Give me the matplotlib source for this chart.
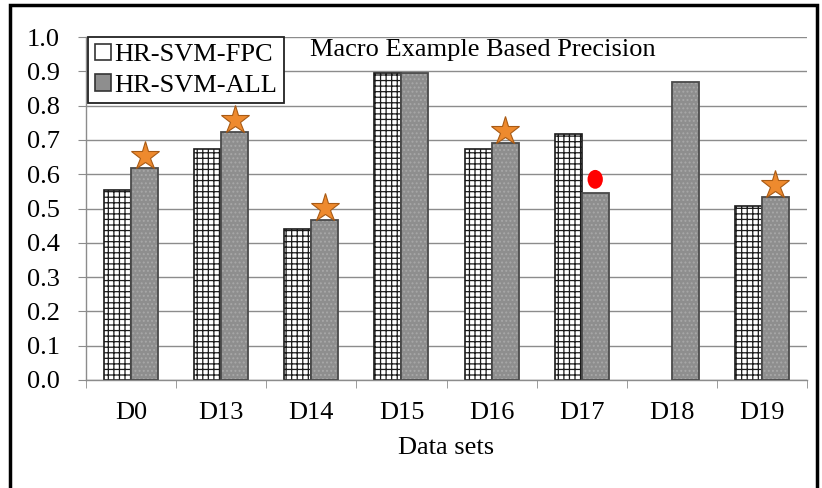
import matplotlib
matplotlib.use("Agg")
import matplotlib.pyplot as plt
import numpy as np
from matplotlib.patches import Rectangle, Ellipse

plt.rcParams['font.family'] = ['Liberation Serif', 'DejaVu Serif']
plt.rcParams['hatch.linewidth'] = 0.9

categories = ["D0", "D13", "D14", "D15", "D16", "D17", "D18", "D19"]
fpc = [0.554, 0.673, 0.440, 0.895, 0.673, 0.717, 0.0, 0.507]
allv = [0.618, 0.723, 0.466, 0.895, 0.690, 0.545, 0.869, 0.533]
star_cats = ["D0", "D13", "D14", "D16", "D19"]
dot_cats = ["D17"]
series_names = ["HR-SVM-FPC", "HR-SVM-ALL"]
title = "Macro Example Based Precision"

FS = 19

fig = plt.figure(figsize=(8.22, 4.88), dpi=100)
ax = fig.add_axes([86/822, 1-380/488, (807-86)/822, (380-37)/488])

x = np.arange(len(categories))
w = 0.3
ax.set_axisbelow(True)
ax.yaxis.grid(True, color='#8c8c8c', linewidth=1.0)

b1 = ax.bar(x - w/2, fpc, width=w, facecolor='white', edgecolor='#1a1a1a',
            hatch='+++', linewidth=1.2, zorder=2, label=series_names[0])
for rect, v in zip(b1, fpc):
    if v <= 0:
        rect.set_visible(False)
# gray bars with subtle dotted texture
ax.bar(x + w/2, allv, width=w, facecolor='#8e8e8e', edgecolor='#a8a8a8',
       hatch='....', linewidth=0, zorder=2)
b2 = ax.bar(x + w/2, allv, width=w, fill=False, edgecolor='#4a4a4a',
            linewidth=1.3, zorder=3)

# legend handles
h1 = Rectangle((0, 0), 1, 1, facecolor='white', edgecolor='#333333', linewidth=1.2)
h2 = Rectangle((0, 0), 1, 1, facecolor='#8e8e8e', edgecolor='#333333', linewidth=1.2)
leg = ax.legend([h1, h2], series_names, loc='upper left', bbox_to_anchor=(0.003, 1.0),
                borderaxespad=0, fontsize=FS, handlelength=0.6, handleheight=0.6,
                handletextpad=0.15, labelspacing=0.3, borderpad=0.25, fancybox=False,
                framealpha=1, edgecolor='#222222')
leg.get_frame().set_linewidth(1.3)
leg.set_zorder(5)

# markers
for c in star_cats:
    i = categories.index(c)
    ax.plot(i + w/2, allv[i] + 0.036, marker='*', markersize=21, color='#ee8a2e',
            markeredgecolor='#a85a14', markeredgewidth=0.8, zorder=6)
for c in dot_cats:
    i = categories.index(c)
    ax.add_patch(Ellipse((i + w/2, allv[i] + 0.04), width=0.17, height=0.055,
                         facecolor='#ff0000', edgecolor='none', zorder=4))

ax.text(0.31, 0.962, title, transform=ax.transAxes, ha='left', va='center', fontsize=FS)

ax.set_xlim(-0.5, len(categories) - 0.5)
ax.set_ylim(0, 1.0)
ax.set_yticks(np.arange(0, 1.01, 0.1))
ax.set_yticklabels([f"{v:.1f}" for v in np.arange(0, 1.01, 0.1)])
ax.set_xticks(x)
ax.set_xticklabels(categories)
ax.set_xticks(np.arange(-0.5, len(categories), 1), minor=True)
ax.tick_params(axis='x', which='major', length=0, labelsize=FS, pad=16)
ax.tick_params(axis='x', which='minor', length=6, color='#8c8c8c', direction='out')
ax.tick_params(axis='y', length=6, color='#8c8c8c', labelsize=FS, pad=13)
ax.set_xlabel("Data sets", fontsize=FS, labelpad=9)

for s in ['top', 'right']:
    ax.spines[s].set_visible(False)
for s in ['left', 'bottom']:
    ax.spines[s].set_color('#8c8c8c')
    ax.spines[s].set_linewidth(1.0)

# outer border
fig.add_artist(Rectangle((10/822, -0.05), (817-10)/822, 1.05 - 5/488, transform=fig.transFigure,
                         fill=False, edgecolor='black', linewidth=2.5))

fig.savefig("out.png", dpi=100)
